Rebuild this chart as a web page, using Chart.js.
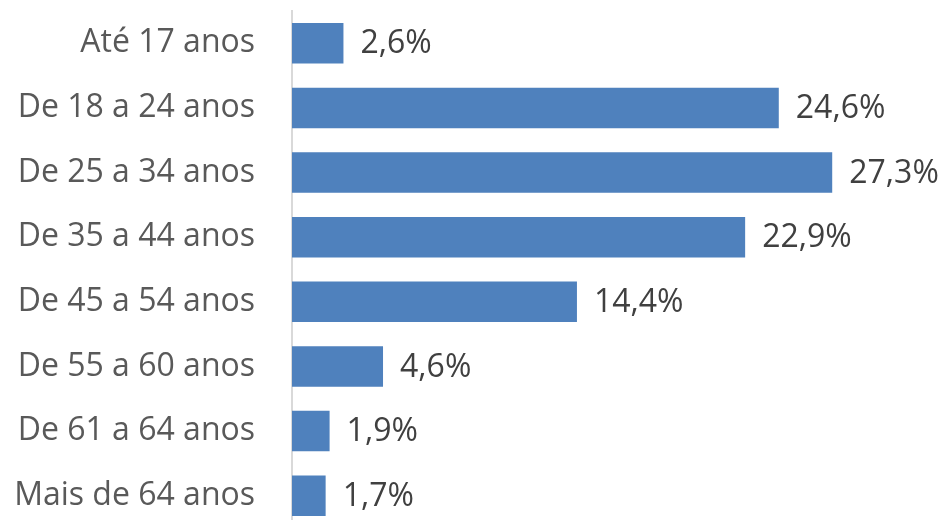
<!DOCTYPE html>
<html>
<head>
<meta charset="utf-8">
<script src="https://cdn.jsdelivr.net/npm/chart.js@4/dist/chart.umd.min.js"></script>
<style>
  html, body { margin: 0; padding: 0; background: #ffffff; overflow: hidden; }
  #wrap { width: 945px; height: 520px; overflow: hidden; }
  canvas { display: block; }
</style>
</head>
<body>
<div id="wrap"><canvas id="chart" width="945" height="528"></canvas></div>
<script>
// Age groups and their share (%)
const categories = [
  'Até 17 anos',
  'De 18 a 24 anos',
  'De 25 a 34 anos',
  'De 35 a 44 anos',
  'De 45 a 54 anos',
  'De 55 a 60 anos',
  'De 61 a 64 anos',
  'Mais de 64 anos'
];
const shares = [2.6, 24.6, 27.3, 22.9, 14.4, 4.6, 1.9, 1.7];

const FONT = '"Open Sans", "Noto Sans", sans-serif';

// Writes "12,3%" to the right of each bar
const valueLabels = {
  id: 'valueLabels',
  afterDatasetsDraw(chart) {
    const ctx = chart.ctx;
    const meta = chart.getDatasetMeta(0);
    ctx.save();
    ctx.font = '32px ' + FONT;
    ctx.fillStyle = '#404040';
    ctx.textAlign = 'left';
    ctx.textBaseline = 'middle';
    meta.data.forEach((bar, i) => {
      const txt = shares[i].toFixed(1).replace('.', ',') + '%';
      ctx.fillText(txt, bar.x + 17, bar.y + 1);
    });
    ctx.restore();
  }
};

new Chart(document.getElementById('chart'), {
  type: 'bar',
  data: {
    labels: categories,
    datasets: [{
      data: shares,
      backgroundColor: '#4f81bd',
      borderWidth: 0,
      categoryPercentage: 1,
      barPercentage: 0.627
    }]
  },
  options: {
    indexAxis: 'y',
    responsive: false,
    animation: false,
    layout: { padding: { top: 11, right: 0, bottom: 0, left: 0 } },
    plugins: {
      legend: { display: false },
      tooltip: { enabled: false }
    },
    scales: {
      x: {
        display: false,
        min: 0,
        max: 33
      },
      y: {
        grid: { display: false },
        border: { display: true, color: '#d9d9d9', width: 2 },
        ticks: {
          color: '#595959',
          font: { family: FONT, size: 32 },
          padding: 29
        },
        afterFit(scale) {
          scale.width = 292;
          scale.paddingTop = 0;
          scale.paddingBottom = 0;
        }
      }
    }
  },
  plugins: [valueLabels]
});
</script>
</body>
</html>
